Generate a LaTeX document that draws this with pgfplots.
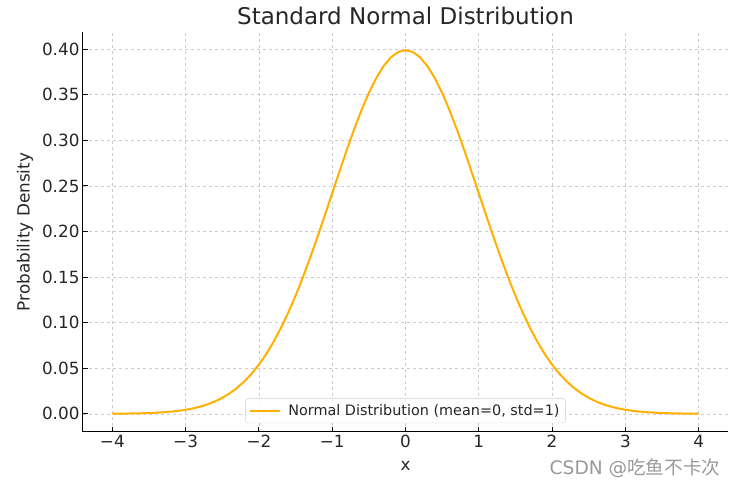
\documentclass[border=0pt]{standalone}
\usepackage{pgfplots}
\pgfplotsset{compat=1.18}
\usepackage{fontspec}
\setmainfont{DejaVu Sans}
\newfontfamily\cjk{Noto Sans CJK SC}
\definecolor{curve}{HTML}{FFB000}
\definecolor{txt}{HTML}{262626}
\definecolor{gridc}{HTML}{CCCCCC}
\begin{document}
\begin{tikzpicture}
\path[use as bounding box] (-83pt,-55pt) rectangle (654pt,432pt);
\begin{axis}[
  at={(0pt,0pt)}, anchor=south west,
  scale only axis, width=645pt, height=400pt,
  xmin=-4.4, xmax=4.4, ymin=-0.01995, ymax=0.41889,
  axis lines*=left,
  axis line style={black, line width=1pt, -},
  tick align=inside,
  major tick length=5pt,
  tick style={black, line width=0.9pt},
  xtick={-4,-3,-2,-1,0,1,2,3,4},
  xticklabels={−4,−3,−2,−1,0,1,2,3,4},
  ytick={0,0.05,0.10,0.15,0.20,0.25,0.30,0.35,0.40},
  yticklabel style={/pgf/number format/.cd, fixed, fixed zerofill, precision=2, assume math mode=true},
  ticklabel style={font=\fontsize{16.8}{18}\selectfont, text=txt},
  grid=major,
  major grid style={gridc, dashed, line width=0.6pt},
  xlabel={x}, ylabel={Probability Density},
  label style={font=\fontsize{16.8}{18}\selectfont, text=txt},
  xlabel style={yshift=-6pt},
  ylabel style={yshift=2pt},
  title={Standard Normal Distribution},
  title style={font=\fontsize{23}{25}\selectfont, text=txt, yshift=-2pt},
  legend style={at={(0.5,0.022)}, anchor=south, font=\fontsize{14.4}{16}\selectfont, text=txt,
    draw=gridc, rounded corners=3pt, fill=white, fill opacity=0.8, text opacity=1,
    inner xsep=4pt, inner ysep=4pt},
  legend cell align=left,
  legend image post style={xscale=1.75},
]
\addplot[curve, line width=2pt] coordinates {
(-4.0,0.000134)(-3.9,0.000199)(-3.8,0.000292)(-3.7,0.000425)(-3.6,0.000612)
(-3.5,0.000873)(-3.4,0.001232)(-3.3,0.001723)(-3.2,0.002384)(-3.1,0.003267)
(-3.0,0.004432)(-2.9,0.005953)(-2.8,0.007915)(-2.7,0.010421)(-2.6,0.013583)
(-2.5,0.017528)(-2.4,0.022395)(-2.3,0.028327)(-2.2,0.035475)(-2.1,0.043984)
(-2.0,0.053991)(-1.9,0.065616)(-1.8,0.078950)(-1.7,0.094049)(-1.6,0.110921)
(-1.5,0.129518)(-1.4,0.149727)(-1.3,0.171369)(-1.2,0.194186)(-1.1,0.217852)
(-1.0,0.241971)(-0.9,0.266085)(-0.8,0.289692)(-0.7,0.312254)(-0.6,0.333225)
(-0.5,0.352065)(-0.4,0.368270)(-0.3,0.381388)(-0.2,0.391043)(-0.1,0.396953)
(0.0,0.398942)
(0.1,0.396953)(0.2,0.391043)(0.3,0.381388)(0.4,0.368270)(0.5,0.352065)
(0.6,0.333225)(0.7,0.312254)(0.8,0.289692)(0.9,0.266085)(1.0,0.241971)
(1.1,0.217852)(1.2,0.194186)(1.3,0.171369)(1.4,0.149727)(1.5,0.129518)
(1.6,0.110921)(1.7,0.094049)(1.8,0.078950)(1.9,0.065616)(2.0,0.053991)
(2.1,0.043984)(2.2,0.035475)(2.3,0.028327)(2.4,0.022395)(2.5,0.017528)
(2.6,0.013583)(2.7,0.010421)(2.8,0.007915)(2.9,0.005953)(3.0,0.004432)
(3.1,0.003267)(3.2,0.002384)(3.3,0.001723)(3.4,0.001232)(3.5,0.000873)
(3.6,0.000612)(3.7,0.000425)(3.8,0.000292)(3.9,0.000199)(4.0,0.000134)
};
\addlegendentry{\hspace{5pt}Normal Distribution (mean=0, std=1)}
\end{axis}
\node[text=black!40, font=\fontsize{18.6}{20}\selectfont, anchor=center] at (552pt,-36pt) {CSDN @{\cjk 吃鱼不卡次}};
\end{tikzpicture}
\end{document}
